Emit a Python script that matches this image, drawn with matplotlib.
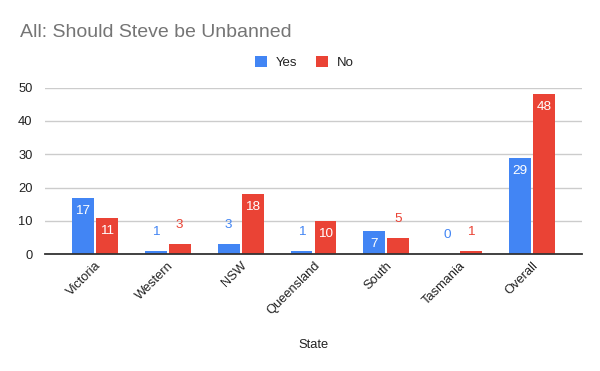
import matplotlib
matplotlib.use("Agg")
import matplotlib.pyplot as plt
import numpy as np

plt.rcParams['font.family'] = ['Liberation Sans', 'DejaVu Sans']

states = ["Victoria", "Western", "NSW", "Queensland", "South", "Tasmania", "Overall"]
yes_vals = [17, 1, 3, 1, 7, 0, 29]
no_vals = [11, 3, 18, 10, 5, 1, 48]
yticks = [0, 10, 20, 30, 40, 50]

BLUE = "#4285F4"
RED = "#EA4335"

fig = plt.figure(figsize=(6, 3.71), dpi=100)
ax = fig.add_axes([0.075, 0.3146, 0.895, 0.4493])

x = np.arange(len(states))
w = 0.30
gap = 0.014
ax.bar(x - w / 2 - gap, yes_vals, width=w, color=BLUE, label="Yes", zorder=3)
ax.bar(x + w / 2 + gap, no_vals, width=w, color=RED, label="No", zorder=3)

def label(xs, vals, color):
    for xi, v in zip(xs, vals):
        if v >= 7:
            ax.annotate(str(v), (xi, v), xytext=(0, -13 * 0.72), textcoords="offset points",
                        ha="center", va="center", color="white", fontsize=9.7, zorder=4)
        else:
            ax.annotate(str(v), (xi, v), xytext=(0, 19 * 0.72), textcoords="offset points",
                        ha="center", va="center", color=color, fontsize=9.7, zorder=4)

label(x - w / 2 - gap, yes_vals, BLUE)
label(x + w / 2 + gap, no_vals, RED)

ax.set_xlim(-0.685, len(states) - 1 + 0.685)
ax.set_ylim(0, 50)
ax.set_yticks(yticks)
ax.yaxis.grid(True, color="#cccccc", linewidth=1, zorder=0)
ax.set_axisbelow(True)
for s in ["top", "right", "left"]:
    ax.spines[s].set_visible(False)
ax.spines["bottom"].set_color("#333333")
ax.spines["bottom"].set_linewidth(1.3)
ax.spines["bottom"].set_zorder(5)
ax.tick_params(axis="y", length=0, pad=9, labelsize=9.3, labelcolor="#222222")
ax.tick_params(axis="x", length=0, pad=4, labelsize=9.3, labelcolor="#222222")
ax.set_xticks(x)
ax.set_xticklabels(states, rotation=45, ha="right", rotation_mode="anchor")
ax.set_xlabel("State", fontsize=9.3, color="#222222")
ax.xaxis.label.set_va("center")
ax.xaxis.set_label_coords(0.5, -0.544)

fig.text(0.033, 0.913, "All: Should Steve be Unbanned", fontsize=14, color="#757575",
         ha="left", va="center")

leg = ax.legend(loc="center", bbox_to_anchor=(0.483, 1.15), ncol=2, frameon=False,
                fontsize=9.5, handlelength=0.9, handleheight=0.9, handletextpad=0.68,
                columnspacing=1.36)
for t in leg.get_texts():
    t.set_color("#222222")

fig.savefig("out.png", dpi=100)
